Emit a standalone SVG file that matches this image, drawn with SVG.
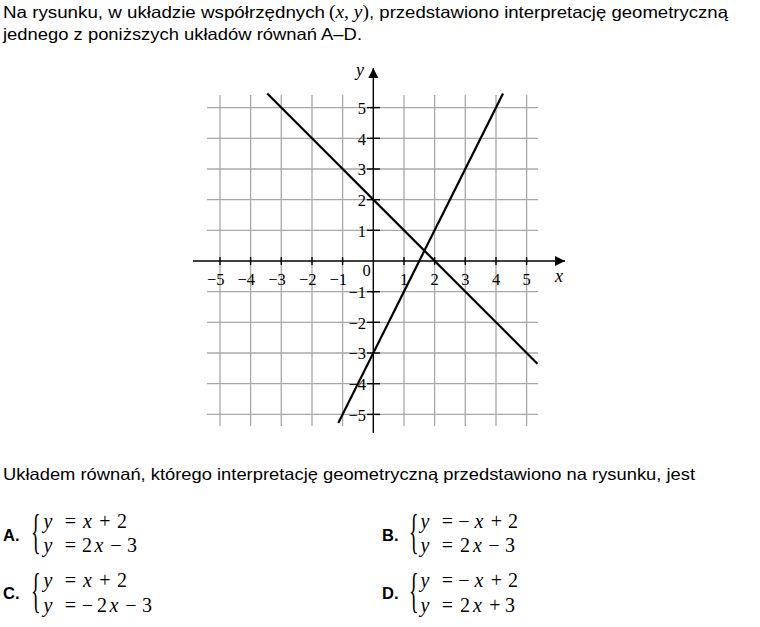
<svg xmlns="http://www.w3.org/2000/svg" width="760" height="627" viewBox="0 0 760 627">
<defs>
<style>
.t{font-family:"Liberation Sans",Arial,sans-serif;font-size:16.5px;fill:#000}
.b{font-weight:bold}
.m{font-family:"Liberation Serif","Times New Roman",serif;font-size:18px;fill:#000}
.eq{font-family:"Liberation Serif","Times New Roman",serif;font-size:20px;fill:#000;text-anchor:middle}
.i{font-style:italic}
.br{font-family:"Liberation Serif","Times New Roman",serif;font-size:25px;fill:#000}
.ax{font-family:"Liberation Serif","Times New Roman",serif;font-size:16.5px;fill:#000}
.grid line{stroke:#a8a8a8;stroke-width:1.3}
.axis{stroke:#000;stroke-width:1.4;fill:none}
.tick line{stroke:#000;stroke-width:1.4}
.fn{stroke:#000;stroke-width:2.2;fill:none}
</style>
<marker id="arr" markerUnits="userSpaceOnUse" markerWidth="11" markerHeight="11" refX="10" refY="5" orient="auto">
<path d="M0,0 L10,5 L0,10 z" fill="#000"/>
</marker>
</defs>
<rect width="760" height="627" fill="#fff"/>

<g id="intro">
<text class="t" x="3" y="17.5" textLength="322" lengthAdjust="spacingAndGlyphs">Na rysunku, w układzie współrzędnych</text>
<text class="m" x="329" y="17.5" textLength="40" lengthAdjust="spacingAndGlyphs">(<tspan class="i">x</tspan>, <tspan class="i">y</tspan>)</text>
<text class="t" x="369" y="17.5" textLength="359" lengthAdjust="spacingAndGlyphs">, przedstawiono interpretację geometryczną</text>
<text class="t" x="3" y="39.5" textLength="359" lengthAdjust="spacingAndGlyphs">jednego z poniższych układów równań A–D.</text>
</g>

<g id="graph">
<g class="grid">
<line x1="220" y1="95" x2="220" y2="426"/>
<line x1="250.6" y1="95" x2="250.6" y2="426"/>
<line x1="281.3" y1="95" x2="281.3" y2="426"/>
<line x1="312" y1="95" x2="312" y2="426"/>
<line x1="342.6" y1="95" x2="342.6" y2="426"/>
<line x1="404" y1="95" x2="404" y2="426"/>
<line x1="434.6" y1="95" x2="434.6" y2="426"/>
<line x1="465.3" y1="95" x2="465.3" y2="426"/>
<line x1="496" y1="95" x2="496" y2="426"/>
<line x1="526.6" y1="95" x2="526.6" y2="426"/>
<line x1="207" y1="107.6" x2="538" y2="107.6"/>
<line x1="207" y1="138.3" x2="538" y2="138.3"/>
<line x1="207" y1="169" x2="538" y2="169"/>
<line x1="207" y1="199.7" x2="538" y2="199.7"/>
<line x1="207" y1="230.3" x2="538" y2="230.3"/>
<line x1="207" y1="291.7" x2="538" y2="291.7"/>
<line x1="207" y1="322.3" x2="538" y2="322.3"/>
<line x1="207" y1="353" x2="538" y2="353"/>
<line x1="207" y1="383.7" x2="538" y2="383.7"/>
<line x1="207" y1="414.4" x2="538" y2="414.4"/>
</g>
<line class="axis" x1="193" y1="261" x2="565" y2="261" marker-end="url(#arr)"/>
<line class="axis" x1="373.3" y1="433" x2="373.3" y2="68" marker-end="url(#arr)"/>
<g class="tick">
<line x1="220" y1="257" x2="220" y2="265"/>
<line x1="250.6" y1="257" x2="250.6" y2="265"/>
<line x1="281.3" y1="257" x2="281.3" y2="265"/>
<line x1="312" y1="257" x2="312" y2="265"/>
<line x1="342.6" y1="257" x2="342.6" y2="265"/>
<line x1="404" y1="257" x2="404" y2="265"/>
<line x1="434.6" y1="257" x2="434.6" y2="265"/>
<line x1="465.3" y1="257" x2="465.3" y2="265"/>
<line x1="496" y1="257" x2="496" y2="265"/>
<line x1="526.6" y1="257" x2="526.6" y2="265"/>
<line x1="367" y1="107.6" x2="380" y2="107.6"/>
<line x1="367" y1="138.3" x2="380" y2="138.3"/>
<line x1="367" y1="169" x2="380" y2="169"/>
<line x1="367" y1="199.7" x2="380" y2="199.7"/>
<line x1="367" y1="230.3" x2="380" y2="230.3"/>
<line x1="367" y1="291.7" x2="380" y2="291.7"/>
<line x1="367" y1="322.3" x2="380" y2="322.3"/>
<line x1="367" y1="353" x2="380" y2="353"/>
<line x1="367" y1="383.7" x2="380" y2="383.7"/>
<line x1="367" y1="414.4" x2="380" y2="414.4"/>
</g>
<g class="ax" text-anchor="end">
<text x="224.5" y="285">−5</text>
<text x="255.1" y="285">−4</text>
<text x="285.8" y="285">−3</text>
<text x="316.5" y="285">−2</text>
<text x="347.1" y="285">−1</text>
</g>
<g class="ax" text-anchor="middle">
<text x="404" y="285">1</text>
<text x="434.6" y="285">2</text>
<text x="465.3" y="285">3</text>
<text x="496" y="285">4</text>
<text x="526.6" y="285">5</text>
<text x="366.5" y="276">0</text>
</g>
<g class="ax" text-anchor="end">
<text x="366" y="113.8">5</text>
<text x="366" y="144.5">4</text>
<text x="366" y="175.2">3</text>
<text x="366" y="205.9">2</text>
<text x="366" y="236.5">1</text>
<text x="366" y="297.9">−1</text>
<text x="366" y="328.5">−2</text>
<text x="366" y="359.2">−3</text>
<text x="366" y="389.9">−4</text>
<text x="366" y="420.6">−5</text>
</g>
<text class="m i" x="356" y="76">y</text>
<text class="m i" x="555" y="282">x</text>
</g>

<g id="connectors">
<line id="line-a" class="fn" x1="267.2" y1="93.5" x2="537.4" y2="363.7"/>
<line id="line-b" class="fn" x1="338.3" y1="422.9" x2="503" y2="93.5"/>
</g>

<g id="question">
<text class="t" x="3" y="480" textLength="692" lengthAdjust="spacingAndGlyphs">Układem równań, którego interpretację geometryczną przedstawiono na rysunku, jest</text>
</g>

<g id="option-a">
<text class="t b" x="3" y="541">A.</text>
<text class="br" transform="translate(31,548) scale(0.8,1.95)">{</text>
<text class="eq" y="528"><tspan class="i" x="48">y</tspan><tspan x="70.5">=</tspan><tspan class="i" x="87.5">x</tspan><tspan x="105">+</tspan><tspan x="122">2</tspan></text>
<text class="eq" y="552"><tspan class="i" x="48">y</tspan><tspan x="70.5">=</tspan><tspan x="87">2</tspan><tspan class="i" x="99">x</tspan><tspan x="116">−</tspan><tspan x="132">3</tspan></text>
</g>
<g id="option-b">
<text class="t b" x="382" y="541">B.</text>
<text class="br" transform="translate(409,548) scale(0.8,1.95)">{</text>
<text class="eq" y="528"><tspan class="i" x="425">y</tspan><tspan x="447.5">=</tspan><tspan x="464">−</tspan><tspan class="i" x="479">x</tspan><tspan x="496.5">+</tspan><tspan x="513">2</tspan></text>
<text class="eq" y="552"><tspan class="i" x="425">y</tspan><tspan x="447.5">=</tspan><tspan x="465">2</tspan><tspan class="i" x="477.5">x</tspan><tspan x="494">−</tspan><tspan x="510">3</tspan></text>
</g>
<g id="option-c">
<text class="t b" x="3" y="599">C.</text>
<text class="br" transform="translate(31,607) scale(0.8,1.95)">{</text>
<text class="eq" y="587"><tspan class="i" x="48">y</tspan><tspan x="70.5">=</tspan><tspan class="i" x="87.5">x</tspan><tspan x="105">+</tspan><tspan x="122">2</tspan></text>
<text class="eq" y="612"><tspan class="i" x="48">y</tspan><tspan x="70.5">=</tspan><tspan x="87.5">−</tspan><tspan x="102">2</tspan><tspan class="i" x="114">x</tspan><tspan x="131">−</tspan><tspan x="147">3</tspan></text>
</g>
<g id="option-d">
<text class="t b" x="382" y="599">D.</text>
<text class="br" transform="translate(409,607) scale(0.8,1.95)">{</text>
<text class="eq" y="587"><tspan class="i" x="425">y</tspan><tspan x="447.5">=</tspan><tspan x="464">−</tspan><tspan class="i" x="479">x</tspan><tspan x="496.5">+</tspan><tspan x="513">2</tspan></text>
<text class="eq" y="612"><tspan class="i" x="425">y</tspan><tspan x="447.5">=</tspan><tspan x="465">2</tspan><tspan class="i" x="477.5">x</tspan><tspan x="495">+</tspan><tspan x="510">3</tspan></text>
</g>
</svg>
